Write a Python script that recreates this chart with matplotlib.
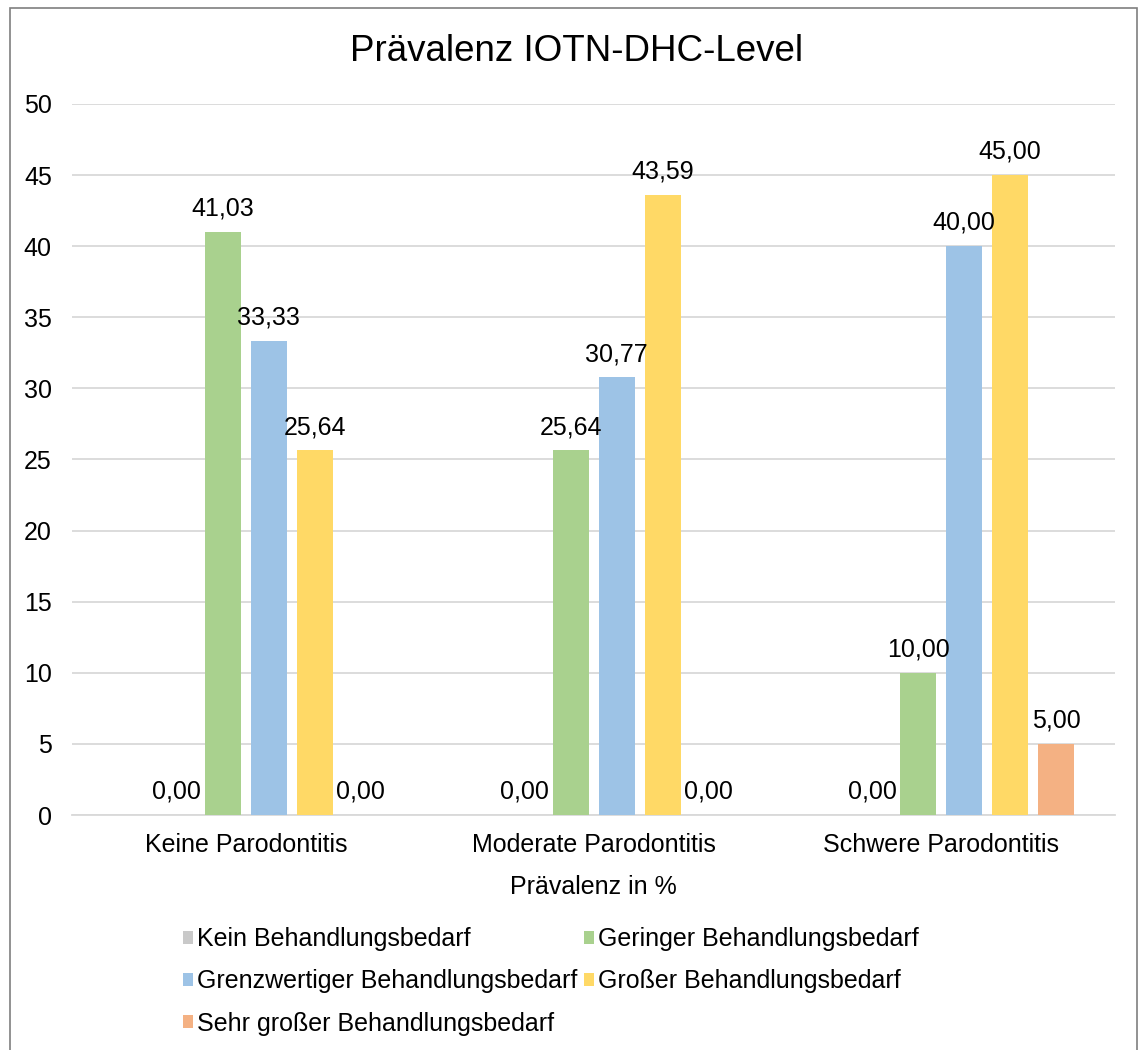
import numpy as np
import matplotlib.pyplot as plt
from matplotlib.patches import Rectangle

plt.rcParams["font.family"] = ["Liberation Sans", "DejaVu Sans"]

categories = ["Keine Parodontitis", "Moderate Parodontitis", "Schwere Parodontitis"]
series_names = ["Kein Behandlungsbedarf", "Geringer Behandlungsbedarf",
                "Grenzwertiger Behandlungsbedarf", "Großer Behandlungsbedarf",
                "Sehr großer Behandlungsbedarf"]
kein = [0.00, 0.00, 0.00]
geringer = [41.03, 25.64, 10.00]
grenzwertig = [33.33, 30.77, 40.00]
gross = [25.64, 43.59, 45.00]
sehr_gross = [0.00, 0.00, 5.00]
colors = ["#c9c9c9", "#a9d18e", "#9dc3e6", "#ffd966", "#f4b183"]

values = [kein, geringer, grenzwertig, gross, sehr_gross]
fs = 18

fig = plt.figure(figsize=(11.39, 10.50), dpi=100)
ax = fig.add_axes([0.0632, 0.2238, 0.9158, 0.6772])

x = np.arange(len(categories))
step = 0.1323
width = 0.1035
handles = []
for i, (vals, name, col) in enumerate(zip(values, series_names, colors)):
    pos = x + (i - 1.5) * step
    bars = ax.bar(pos, vals, width=width, color=col, label=name, zorder=3)
    handles.append(bars)
    for p, v in zip(pos, vals):
        ax.text(p, v + 0.8, f"{v:.2f}".replace(".", ","), ha="center", va="bottom",
                fontsize=fs, color="#000000", zorder=4)

ax.set_xlim(-0.5, 2.5)
ax.set_ylim(0, 50)
ax.set_yticks(np.arange(0, 51, 5))
ax.yaxis.grid(True, color="#d9d9d9", linewidth=1.3, zorder=0)
ax.set_axisbelow(True)
for s in ["top", "right", "left"]:
    ax.spines[s].set_visible(False)
ax.spines["bottom"].set_color("#d9d9d9")
ax.spines["bottom"].set_linewidth(1.3)
ax.tick_params(axis="both", length=0, labelsize=fs, colors="#000000")
ax.tick_params(axis="y", pad=14.5)
ax.tick_params(axis="x", pad=13)
ax.set_xticks(x)
ax.set_xticklabels(categories)
ax.set_xlabel("Prävalenz in %", fontsize=fs, labelpad=13)

fig.text(0.506, 0.951, "Prävalenz IOTN-DHC-Level", ha="center", va="center", fontsize=26.5)

order = [0, 2, 4, 1, 3]
fig.legend([handles[k] for k in order], [series_names[k] for k in order],
           ncol=2, loc="upper left", bbox_to_anchor=(0.1607, 0.117), frameon=False,
           fontsize=fs, handlelength=0.4, handleheight=0.4, handletextpad=0.16,
           columnspacing=0.25, labelspacing=0.73, borderaxespad=0, borderpad=0)

fig.patches.append(Rectangle((10 / 1139, -0.01), 1127 / 1139, 1 - 8 / 1050 + 0.01,
                             transform=fig.transFigure, fill=False,
                             edgecolor="#7f7f7f", linewidth=1.2))

fig.savefig("out.png", dpi=100)
